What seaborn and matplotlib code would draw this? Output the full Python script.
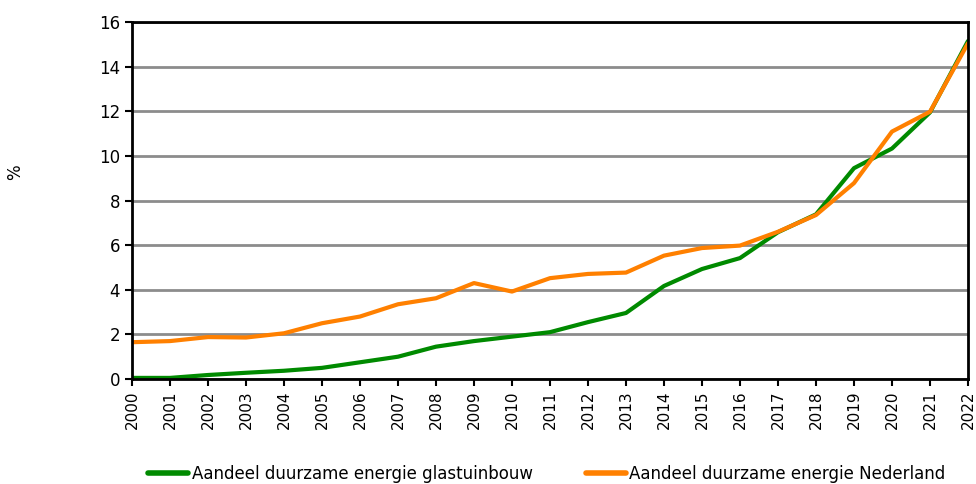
import pandas as pd
import matplotlib.pyplot as plt
import seaborn as sns

# data
years = list(range(2000, 2023))
glastuinbouw = [0.05, 0.05, 0.18, 0.28, 0.37, 0.50, 0.75, 1.00, 1.45, 1.70, 1.90, 2.10,
                2.55, 2.96, 4.17, 4.93, 5.42, 6.58, 7.38, 9.45, 10.33, 11.95, 15.15]
nederland = [1.65, 1.70, 1.88, 1.86, 2.05, 2.50, 2.80, 3.35, 3.62, 4.30, 3.92, 4.52,
             4.71, 4.77, 5.53, 5.87, 5.98, 6.60, 7.35, 8.78, 11.09, 11.98, 15.05]
series_names = ['Aandeel duurzame energie glastuinbouw', 'Aandeel duurzame energie Nederland']
colors = ['#008a00', '#ff8000']

df = pd.DataFrame({
    'jaar': years * 2,
    'waarde': glastuinbouw + nederland,
    'reeks': [series_names[0]] * len(years) + [series_names[1]] * len(years),
})

sns.set_style('white')
plt.rcParams['font.family'] = ['DejaVu Sans']
plt.rcParams['text.color'] = 'black'
plt.rcParams['xtick.color'] = 'black'
plt.rcParams['ytick.color'] = 'black'

fig = plt.figure(figsize=(9.76, 4.84), dpi=100)
ax = fig.add_axes([0.1352, 0.2169, 0.8566, 0.7376])

sns.lineplot(data=df, x='jaar', y='waarde', hue='reeks', palette=colors,
             linewidth=3, ax=ax, legend=False)

ax.set_xlim(2000, 2022)
ax.set_ylim(0, 16)
ax.set_yticks(range(0, 17, 2))
ax.set_xticks(years)
ax.set_xticklabels([str(y) for y in years], rotation=90, fontsize=11)
ax.tick_params(axis='y', labelsize=12)
ax.tick_params(direction='out', length=5, width=1.5, color='black', bottom=True, left=True)
ax.grid(axis='y', color='#8c8c8c', linewidth=2)
ax.set_axisbelow(True)
for side in ax.spines.values():
    side.set_color('black')
    side.set_linewidth(2)
ax.set_xlabel('')
ax.set_ylabel('')
fig.text(0.016, 0.645, '%', rotation=90, ha='center', va='center', fontsize=12)

handles = [plt.Line2D([], [], color=c, linewidth=4) for c in colors]
fig.legend(handles, series_names, loc='center left', bbox_to_anchor=(0.152, 0.02), ncol=2,
           frameon=False, fontsize=12, handlelength=2.4, handletextpad=0.2,
           columnspacing=3.2, borderpad=0, borderaxespad=0)

fig.savefig('out.png', dpi=100)
